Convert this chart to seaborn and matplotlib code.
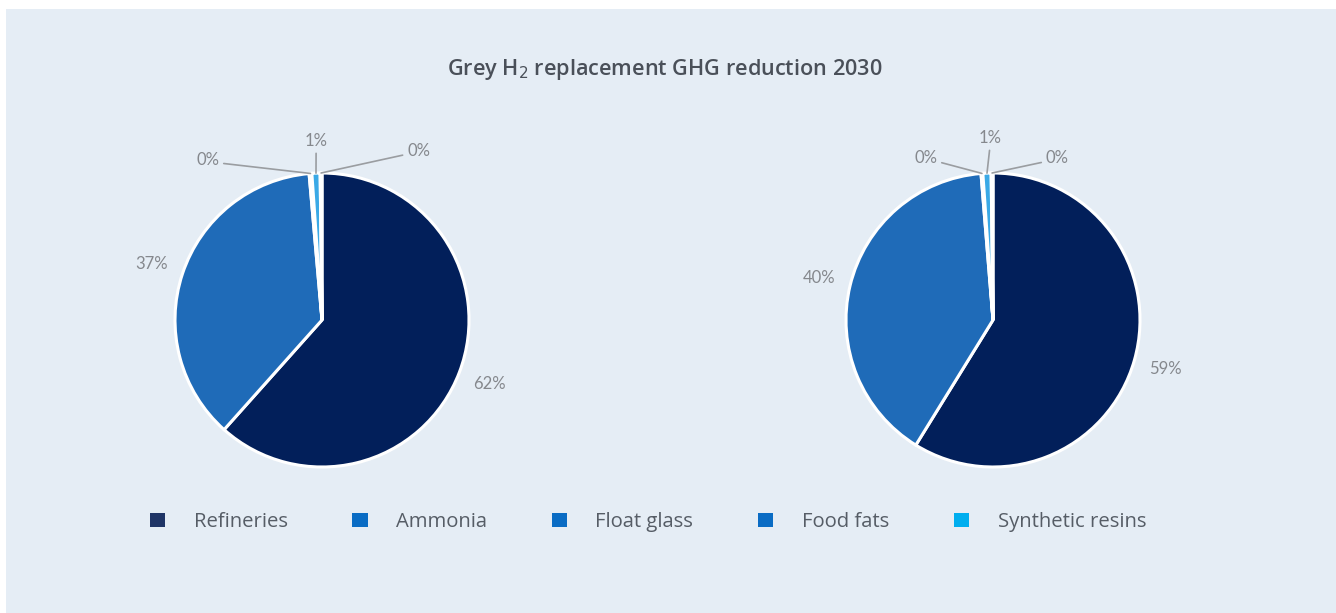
import numpy as np
import matplotlib
matplotlib.use("Agg")
import matplotlib.pyplot as plt
import seaborn as sns
from matplotlib.patches import Patch, Rectangle

# data
sectors = ['Refineries', 'Ammonia', 'Float glass', 'Food fats', 'Synthetic resins']
share_left = [61.6, 37.0, 0.3, 0.9, 0.2]
share_right = [58.8, 39.9, 0.2, 0.9, 0.2]
title = 'Grey H$_2$ replacement GHG reduction 2030'

pie_colors = ['#021f5a', '#1f6bb8', '#1f6bb8', '#3aa9e6', '#1f6bb8']
legend_colors = ['#1f3566', '#0a6cc4', '#0a6cc4', '#0a6cc4', '#00aeef']

BG = '#e5edf5'
PCT = '#85888d'

sns.set_theme(style='white')
plt.rcParams['font.family'] = ['Open Sans', 'DejaVu Sans']

W, H = 1336, 613
fig = plt.figure(figsize=(W / 100, H / 100), dpi=100)
fig.patch.set_facecolor('white')
fig.patches.append(Rectangle((6 / W, 0), 1, 1 - 9 / H, transform=fig.transFigure,
                             facecolor=BG, edgecolor='none', zorder=-5))

R = 147  # pie radius in px
half = 200


def draw_pie(cx, cy, vals, small_pos):
    ax = fig.add_axes([(cx - half) / W, (H - cy - half) / H, 2 * half / W, 2 * half / H])
    wedges, _ = ax.pie(vals, colors=pie_colors, startangle=90, counterclock=False,
                       radius=1.0, wedgeprops=dict(edgecolor='white', linewidth=2.2))
    ax.set_xlim(-half / R, half / R)
    ax.set_ylim(-half / R, half / R)
    ax.set_aspect('equal')
    ax.axis('off')
    tot = sum(vals)
    k = 0
    font = dict(color=PCT, fontsize=12, family=['Lato', 'DejaVu Sans'])
    for w, v in zip(wedges, vals):
        mid = np.deg2rad((w.theta1 + w.theta2) / 2)
        lab = f'{round(v / tot * 100):.0f}%'
        if v / tot > 0.05:
            ax.text(1.22 * np.cos(mid), 1.22 * np.sin(mid), lab, ha='center', va='center', **font)
        else:
            tx, ty, ha, rel = small_pos[k]
            k += 1
            ax.annotate(lab, xy=(np.cos(mid), np.sin(mid)), xytext=(tx, ty),
                        ha=ha, va='center', **font,
                        arrowprops=dict(arrowstyle='-', color='#9a9da1', lw=1.2,
                                        shrinkA=1, shrinkB=0, relpos=rel))
    return ax


ax1 = draw_pie(322, 320, share_left, [(-0.70, 1.09, 'right', (1, 0.3)),
                                      (-0.04, 1.22, 'center', (0.5, 0)),
                                      (0.58, 1.15, 'left', (0, 0.3))])
ax2 = draw_pie(993, 320, share_right, [(-0.38, 1.10, 'right', (1, 0.3)),
                                       (-0.02, 1.24, 'center', (0.5, 0)),
                                       (0.36, 1.10, 'left', (0, 0.3))])

fig.text(665 / W, 1 - 69 / H, title, ha='center', va='center', fontsize=15.6,
         fontweight='semibold', color='#4a5059')

handles = [Patch(facecolor=c, edgecolor='none') for c in legend_colors]
fig.legend(handles, sectors, loc='center', bbox_to_anchor=(648 / W, 1 - 522 / H), ncol=5,
           frameon=False, fontsize=14.6, labelcolor='#565d66', handlelength=0.75,
           handleheight=0.75, handletextpad=1.4, columnspacing=3.2)

fig.savefig('out.png', dpi=100, facecolor=fig.get_facecolor())
